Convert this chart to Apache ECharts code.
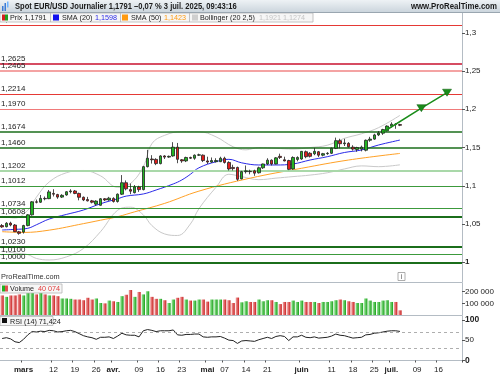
<!DOCTYPE html>
<html><head><meta charset="utf-8">
<script src="https://cdn.jsdelivr.net/npm/echarts@6/dist/echarts.min.js"></script>
<style>html,body{margin:0;padding:0;background:#fff}#c{width:500px;height:375px}</style>
</head><body><div id="c"></div>
<script>
// ---------- DATA ----------
const dates = ['02-24','02-25','02-26','02-27','02-28',
'03-03','03-04','03-05','03-06','03-07','03-10','03-11','03-12','03-13','03-14','03-17','03-18','03-19','03-20','03-21','03-24','03-25','03-26','03-27','03-28','03-31',
'04-01','04-02','04-03','04-04','04-07','04-08','04-09','04-10','04-11','04-14','04-15','04-16','04-17','04-18','04-21','04-22','04-23','04-24','04-25','04-28','04-29','04-30',
'05-01','05-02','05-05','05-06','05-07','05-08','05-09','05-12','05-13','05-14','05-15','05-16','05-19','05-20','05-21','05-22','05-23','05-26','05-27','05-28','05-29','05-30',
'06-02','06-03','06-04','06-05','06-06','06-09','06-10','06-11','06-12','06-13','06-16','06-17','06-18','06-19','06-20','06-23','06-24','06-25','06-26','06-27','06-30',
'07-01','07-02','07-03',
'07-04','07-07','07-08','07-09','07-10','07-11','07-14','07-15','07-16','07-17','07-18','07-21','07-22','07-23'];

const opens  = [1.0480,1.0465,1.0512,1.0487,1.0398,1.0395,1.0480,1.0620,1.0790,1.0785,1.0835,1.0832,1.0900,1.0885,1.0852,1.0880,1.0922,1.0932,1.0900,1.0850,1.0820,1.0803,1.0760,1.0745,1.0830,1.0815,1.0835,1.0795,1.0890,1.1040,1.0950,1.0910,1.0985,1.0950,1.1250,1.1350,1.1345,1.1290,1.1390,1.1375,1.1390,1.1505,1.1340,1.1325,1.1370,1.1360,1.1400,1.1400,1.1325,1.1310,1.1315,1.1315,1.1360,1.1305,1.1240,1.1240,1.1090,1.1185,1.1190,1.1195,1.1170,1.1235,1.1285,1.1335,1.1285,1.1385,1.1340,1.1330,1.1220,1.1345,1.1350,1.1445,1.1425,1.1418,1.1445,1.1400,1.1420,1.1425,1.1490,1.1590,1.1550,1.1555,1.1505,1.1475,1.1480,1.1465,1.1595,1.1610,1.1665,1.1688,1.1720,1.1780,1.1805,1.1800];
const closes = [1.0462,1.0510,1.0487,1.0400,1.0378,1.0480,1.0620,1.0790,1.0785,1.0835,1.0830,1.0920,1.0890,1.0852,1.0875,1.0922,1.0932,1.0900,1.0850,1.0815,1.0803,1.0785,1.0800,1.0830,1.0815,1.0838,1.0795,1.0890,1.1040,1.0960,1.0930,1.0985,1.0950,1.1250,1.1360,1.1340,1.1290,1.1390,1.1375,1.1385,1.1505,1.1346,1.1325,1.1370,1.1360,1.1400,1.1405,1.1330,1.1310,1.1330,1.1330,1.1360,1.1305,1.1220,1.1225,1.1085,1.1185,1.1195,1.1185,1.1165,1.1235,1.1285,1.1335,1.1285,1.1365,1.1370,1.1325,1.1215,1.1370,1.1370,1.1450,1.1380,1.1385,1.1450,1.1400,1.1420,1.1425,1.1490,1.1590,1.1550,1.1560,1.1510,1.1480,1.1500,1.1505,1.1595,1.1610,1.1665,1.1690,1.1735,1.1780,1.1805,1.1800,1.1791];
const lows   = [1.0450,1.0455,1.0470,1.0395,1.0360,1.0375,1.0470,1.0610,1.0770,1.0775,1.0810,1.0825,1.0860,1.0830,1.0840,1.0870,1.0900,1.0890,1.0810,1.0800,1.0795,1.0770,1.0740,1.0740,1.0800,1.0805,1.0780,1.0780,1.0880,1.0940,1.0890,1.0900,1.0920,1.0940,1.1240,1.1290,1.1270,1.1280,1.1350,1.1365,1.1380,1.1295,1.1300,1.1310,1.1350,1.1340,1.1390,1.1310,1.1285,1.1300,1.1305,1.1310,1.1290,1.1200,1.1200,1.1065,1.1085,1.1160,1.1150,1.1130,1.1160,1.1220,1.1270,1.1265,1.1280,1.1350,1.1320,1.1205,1.1210,1.1320,1.1340,1.1360,1.1370,1.1400,1.1375,1.1385,1.1405,1.1415,1.1480,1.1490,1.1520,1.1500,1.1460,1.1445,1.1450,1.1450,1.1575,1.1600,1.1650,1.1665,1.1710,1.1760,1.1745,1.1780];
const highs  = [1.0500,1.0525,1.0530,1.0500,1.0410,1.0490,1.0630,1.0800,1.0820,1.0880,1.0860,1.0945,1.0955,1.0895,1.0890,1.0930,1.0955,1.0945,1.0910,1.0860,1.0855,1.0815,1.0810,1.0840,1.0840,1.0855,1.0850,1.0900,1.1140,1.1070,1.1030,1.1010,1.1000,1.1260,1.1470,1.1400,1.1360,1.1400,1.1400,1.1395,1.1570,1.1560,1.1350,1.1380,1.1380,1.1410,1.1420,1.1410,1.1380,1.1370,1.1360,1.1380,1.1380,1.1320,1.1275,1.1250,1.1195,1.1265,1.1210,1.1210,1.1250,1.1290,1.1360,1.1345,1.1375,1.1420,1.1380,1.1340,1.1385,1.1385,1.1455,1.1460,1.1440,1.1495,1.1455,1.1430,1.1440,1.1500,1.1630,1.1615,1.1615,1.1570,1.1530,1.1510,1.1525,1.1605,1.1640,1.1680,1.1715,1.1745,1.1790,1.1830,1.1820,1.1810];

const volumes = [168000,156000,168000,168000,177000,168000,192000,192000,177000,192000,177000,168000,168000,162000,142000,142000,139000,133000,133000,127000,148000,133000,142000,103000,100000,124000,118000,112000,162000,174000,215000,156000,198000,177000,204000,156000,139000,139000,127000,103000,133000,148000,156000,133000,124000,124000,133000,133000,115000,133000,133000,133000,133000,127000,103000,150000,109000,118000,112000,112000,133000,118000,127000,127000,112000,94000,112000,112000,124000,112000,124000,112000,112000,112000,103000,112000,112000,118000,127000,133000,127000,118000,112000,103000,103000,142000,124000,112000,112000,124000,127000,112000,112000,40074];

const rsi = [54,56,53,46,44,52,63,71,70,72,71,74,73,70,71,73,74,71,66,61,58,56,52,57,57,58,54,60,67,63,62,62,58,73,76,74,71,73,73,73,75,63,62,64,64,65,65,58,57,58,58,59,55,50,49,42,48,49,48,47,51,54,57,54,59,61,59,49,58,58,62,57,56,58,55,56,57,60,65,62,61,58,55,56,57,63,64,67,68,70,72,73,73,71.424];

const sma20Idx = [0,3,6,8,11,15,19,23,27,29,33,36,40,42,44,46,50,53,56,60,64,68,72,76,80,84,88,93];
const sma20Val = [1.0422,1.0430,1.0444,1.0490,1.0565,1.0625,1.0683,1.0765,1.0830,1.0865,1.0893,1.0945,1.1024,1.1076,1.1150,1.1235,1.1315,1.1346,1.1300,1.1272,1.1272,1.1285,1.1337,1.1380,1.1435,1.1468,1.1533,1.1598];
const sma50Idx = [0,5,11,19,23,27,31,38,46,58,70,81,93];
const sma50Val = [1.0400,1.0390,1.0420,1.0505,1.0550,1.0596,1.0660,1.0770,1.0930,1.1100,1.1229,1.1337,1.1423];
const bbUpIdx = [0,3,6,8,11,15,19,23,27,30,33,35,38,42,46,50,54,57,60,64,68,72,76,80,84,88,93];
const bbUpVal = [1.060,1.058,1.068,1.085,1.105,1.117,1.120,1.113,1.098,1.103,1.125,1.155,1.166,1.1707,1.1707,1.164,1.151,1.147,1.150,1.149,1.148,1.150,1.153,1.162,1.168,1.176,1.1921];
const bbLoIdx = [0,3,6,8,11,15,19,23,27,30,33,35,38,41,44,46,50,53,56,60,64,68,72,76,80,84,88,93];
const bbLoVal = [1.015,1.012,1.010,1.005,1.003,1.007,1.018,1.040,1.068,1.072,1.062,1.048,1.037,1.035,1.050,1.070,1.098,1.115,1.112,1.108,1.110,1.112,1.114,1.117,1.122,1.126,1.125,1.1274];

const levels      = [1.3055,1.2625,1.2465,1.2214,1.1970,1.1674,1.1460,1.1202,1.1012,1.0734,1.0608,1.0230,1.0100,1.0000];
const levelLabels = ['1,3055','1,2625','1,2465','1,2214','1,1970','1,1674','1,1460','1,1202','1,1012','1,0734','1,0608','1,0230','1,0100','1,0000'];

const arrowIdx = [89,98,104];
const arrowVal = [1.1700,1.2015,1.2217];

const priceTicks = [1,1.05,1.1,1.15,1.2,1.25,1.3];
const volTicks = [100000,200000];
const rsiTicks = [0,50,100];
const tickDates  = ['03-03','03-12','03-19','03-26','04-01','04-09','04-16','04-23','05-01','05-07','05-14','05-21','06-02','06-11','06-18','06-25','07-01','07-09','07-16'];
const tickLabels = ['mars','12','19','26','avr.','09','16','23','mai','07','14','21','juin','11','18','25','juil.','09','16'];

// ---------- STYLES ----------
const levelColors = ['#e53935','#c8102e','#f4a3a3','#e53935','#f07a7a','#1b6e1b','#1b6e1b','#a9d8a9','#3c9a3c','#3c9a3c','#1b6e1b','#1b6e1b','#3c9a3c','#1b6e1b'];
const levelWidths = [1,1.6,2,1.2,1.2,1.6,1.6,2.2,1.2,1.2,2,2,1.2,2];
const FONT = 'Liberation Sans, Arial, sans-serif';

const pair = (ix, vs) => ix.map((x, k) => [x, vs[k]]);
const candleData = opens.map((o, i) => [o, closes[i], lows[i], highs[i]]);
const gUp = {type:'linear',x:0,y:0,x2:1,y2:0,colorStops:[{offset:0,color:'#9be89b'},{offset:1,color:'#18a018'}]};
const gDn = {type:'linear',x:0,y:0,x2:1,y2:0,colorStops:[{offset:0,color:'#f3a4a4'},{offset:1,color:'#c81e1e'}]};
const volData = volumes.map((v, i) => ({value: v, itemStyle: {color: closes[i] >= opens[i] ? gUp : gDn}}));
const fmtNum = v => String(v).replace('.', ',');
const monthSet = ['mars','avr.','mai','juin','juil.'];

const chart = echarts.init(document.getElementById('c'), null, {renderer: 'canvas'});
const axisGray = '#b4bcc4';
const yCommon = {
  position: 'right', splitLine: {show: false},
  axisLine: {show: true, lineStyle: {color: axisGray}},
  axisTick: {show: true, length: 3, lineStyle: {color: '#555'}},
  axisLabel: {fontSize: 8, color: '#222', margin: 3, fontFamily: FONT}
};
const xCommon = {
  type: 'category', data: dates, boundaryGap: true,
  axisLine: {show: true, lineStyle: {color: axisGray}},
  axisTick: {show: false}, axisLabel: {show: false}, splitLine: {show: false}
};

const option = {
  animation: false,
  backgroundColor: '#fff',
  grid: [
    {left: 0, right: 38, top: 13, height: 269},
    {left: 0, right: 38, top: 283, height: 32},
    {left: 0, right: 38, top: 316, height: 46}
  ],
  xAxis: [
    Object.assign({gridIndex: 0}, xCommon),
    Object.assign({gridIndex: 1}, xCommon),
    Object.assign({}, xCommon, {gridIndex: 2,
      axisTick: {show: true, length: 2, inside: false, lineStyle: {color: '#555'},
        interval: (i, v) => tickDates.indexOf(v) >= 0},
      axisLabel: {show: true, fontSize: 8, color: '#222', margin: 4, fontFamily: FONT,
        interval: (i, v) => tickDates.indexOf(v) >= 0,
        formatter: v => { const t = tickLabels[tickDates.indexOf(v)]; return monthSet.indexOf(t) >= 0 ? '{b|' + t + '}' : t; },
        rich: {b: {fontWeight: 'bold', fontSize: 8, color: '#222', fontFamily: FONT}}}
    })
  ],
  yAxis: [
    Object.assign({}, yCommon, {gridIndex: 0, min: 0.9742, max: 1.3259,
      axisLabel: Object.assign({}, yCommon.axisLabel, {customValues: priceTicks, formatter: v => v === 1 ? '{b|1}' : fmtNum(v), rich: {b: {fontWeight: 'bold', fontSize: 8, color: '#222'}}}),
      axisTick: Object.assign({}, yCommon.axisTick, {customValues: priceTicks})}),
    Object.assign({}, yCommon, {gridIndex: 1, min: 0, max: 275000,
      axisLabel: Object.assign({}, yCommon.axisLabel, {customValues: volTicks, formatter: v => (v/1000) + ' 000'}),
      axisTick: Object.assign({}, yCommon.axisTick, {customValues: volTicks})}),
    Object.assign({}, yCommon, {gridIndex: 2, min: -3.7, max: 109.3,
      axisLabel: Object.assign({}, yCommon.axisLabel, {customValues: rsiTicks, formatter: v => v === 50 ? '50' : '{b|' + v + '}', rich: {b: {fontWeight: 'bold', fontSize: 8.5, color: '#222'}}}),
      axisTick: Object.assign({}, yCommon.axisTick, {customValues: rsiTicks})})
  ],
  series: [
    { // support / resistance levels
      type: 'line', xAxisIndex: 0, yAxisIndex: 0, data: [], z: 1, silent: true,
      markLine: {
        silent: true, symbol: 'none', animation: false,
        data: levels.map((v, k) => ({
          yAxis: v,
          lineStyle: {color: levelColors[k], width: levelWidths[k], type: 'solid'},
          label: {show: true, position: 'insideStartTop', formatter: levelLabels[k], distance: 1,
                  fontSize: 8, color: '#222', fontFamily: FONT}
        }))
      }
    },
    {name: 'BBup', type: 'line', xAxisIndex: 0, yAxisIndex: 0, data: pair(bbUpIdx, bbUpVal), smooth: 0.4, showSymbol: false, z: 2,
      lineStyle: {color: '#c9c9c9', width: 1}},
    {name: 'BBlo', type: 'line', xAxisIndex: 0, yAxisIndex: 0, data: pair(bbLoIdx, bbLoVal), smooth: 0.4, showSymbol: false, z: 2,
      lineStyle: {color: '#c9c9c9', width: 1}},
    {name: 'SMA50', type: 'line', xAxisIndex: 0, yAxisIndex: 0, data: pair(sma50Idx, sma50Val), smooth: 0.4, showSymbol: false, z: 3,
      lineStyle: {color: '#ffa126', width: 1}},
    {name: 'SMA20', type: 'line', xAxisIndex: 0, yAxisIndex: 0, data: pair(sma20Idx, sma20Val), smooth: 0.4, showSymbol: false, z: 3,
      lineStyle: {color: '#2a2ae8', width: 1}},
    {name: 'Prix', type: 'candlestick', xAxisIndex: 0, yAxisIndex: 0, data: candleData, z: 5, barWidth: 3,
      itemStyle: {color: '#22b422', color0: '#e01c1c', borderColor: '#222', borderColor0: '#222', borderWidth: 0.8},
      markLine: {silent: true, symbol: 'none', animation: false,
        data: [{yAxis: closes[closes.length - 1], lineStyle: {opacity: 0},
          label: {show: true, position: 'end', distance: 3, formatter: fmtNum(closes[closes.length - 1]),
            backgroundColor: '#f5d60e', borderColor: '#b59b00', borderWidth: 0.6, padding: [2, 2, 1, 2],
            color: '#000', fontWeight: 'bold', fontSize: 8.5, fontFamily: FONT}}]}},
    {name: 'Arrow', type: 'line', xAxisIndex: 0, yAxisIndex: 0, z: 6,
      data: arrowIdx.map((x, k) => k === 0 ? {value: [x, arrowVal[k]], symbol: 'none'} : [x, arrowVal[k]]),
      symbol: 'triangle', symbolSize: [9, 7], symbolRotate: 180, showSymbol: true, showAllSymbol: true,
      lineStyle: {color: '#1a8c1a', width: 1.5}, itemStyle: {color: '#1a8c1a', borderColor: '#0d5e0d', borderWidth: 0.5}},
    {name: 'Volume', type: 'bar', xAxisIndex: 1, yAxisIndex: 1, data: volData, barCategoryGap: '22%',
      markLine: {silent: true, symbol: 'none', animation: false,
        data: [{yAxis: volumes[volumes.length - 1], lineStyle: {opacity: 0},
          label: {show: true, position: 'end', distance: 4, formatter: '40 074', color: '#e03a3a', fontSize: 8, fontFamily: FONT}}]}},
    {name: 'RSI', type: 'line', xAxisIndex: 2, yAxisIndex: 2, data: rsi, showSymbol: false, z: 3,
      lineStyle: {color: '#222', width: 1},
      markLine: {silent: true, symbol: 'none', animation: false,
        data: [
          {yAxis: 70, lineStyle: {color: '#9a9a9a', type: [3, 3], width: 0.8}, label: {show: false}},
          {yAxis: 30, lineStyle: {color: '#9a9a9a', type: [3, 3], width: 0.8}, label: {show: false}},
          {yAxis: rsi[rsi.length - 1], lineStyle: {opacity: 0},
            label: {show: true, position: 'end', distance: 3, formatter: '71,424', color: '#222', fontSize: 8,
              backgroundColor: '#fff', borderColor: '#8a8a8a', borderWidth: 0.8, padding: [1, 2, 0, 2], fontFamily: FONT}}
        ]}}
  ],
  graphic: [
    // title bar
    {type: 'rect', shape: {x: 0, y: 0, width: 500, height: 13}, z: 100,
      style: {fill: {type: 'linear', x: 0, y: 0, x2: 0, y2: 1, colorStops: [{offset: 0, color: '#eef2f5'}, {offset: 1, color: '#c9d3db'}]}}},
    {type: 'line', shape: {x1: 0, y1: 12.5, x2: 500, y2: 12.5}, style: {stroke: '#9aa6b0', lineWidth: 1}, z: 101},
    {type: 'rect', shape: {x: 2, y: 6, width: 1.5, height: 5}, style: {fill: '#3a7bd5'}, z: 101},
    {type: 'rect', shape: {x: 4.5, y: 3, width: 1.5, height: 8}, style: {fill: '#3a7bd5'}, z: 101},
    {type: 'rect', shape: {x: 7, y: 1.5, width: 1.5, height: 6}, style: {fill: '#6fb3ff'}, z: 101},
    {type: 'text', x: 15, y: 6.8, scaleX: 0.89, z: 102,
      style: {text: 'Spot EUR/USD Journalier 1,1791 \u20130,07 % 3 juil. 2025, 09:43:16', font: 'bold 8.5px ' + FONT, fill: '#1a1a1a', verticalAlign: 'middle', textVerticalAlign: 'middle'}},
    {type: 'text', x: 497, y: 6.8, scaleX: 0.92, z: 102,
      style: {text: 'www.ProRealTime.com', font: 'bold 8.5px ' + FONT, fill: '#1a1a1a', align: 'right', textAlign: 'right', verticalAlign: 'middle', textVerticalAlign: 'middle'}},
    // legend row
    {type: 'rect', shape: {x: 0, y: 13, width: 313, height: 9}, style: {fill: '#f6f6f6', stroke: '#b5b5b5', lineWidth: 0.8}, z: 100},
    {type: 'line', shape: {x1: 50.5, y1: 13, x2: 50.5, y2: 22}, style: {stroke: '#b5b5b5', lineWidth: 0.8}, z: 101},
    {type: 'line', shape: {x1: 120.5, y1: 13, x2: 120.5, y2: 22}, style: {stroke: '#b5b5b5', lineWidth: 0.8}, z: 101},
    {type: 'line', shape: {x1: 189.5, y1: 13, x2: 189.5, y2: 22}, style: {stroke: '#b5b5b5', lineWidth: 0.8}, z: 101},
    {type: 'rect', shape: {x: 2, y: 14.5, width: 3, height: 6}, style: {fill: '#d42020'}, z: 101},
    {type: 'rect', shape: {x: 5, y: 14.5, width: 3, height: 6}, style: {fill: '#20a020'}, z: 101},
    {type: 'text', x: 10, y: 17.8, scaleX: 0.9, z: 102, style: {text: 'Prix 1,1791', font: '8px ' + FONT, fill: '#1a1a1a', verticalAlign: 'middle', textVerticalAlign: 'middle'}},
    {type: 'rect', shape: {x: 53, y: 14.5, width: 6, height: 6}, style: {fill: '#1010ee'}, z: 101},
    {type: 'text', x: 62, y: 17.8, scaleX: 0.9, z: 102, style: {text: 'SMA (20)', font: '8px ' + FONT, fill: '#1a1a1a', verticalAlign: 'middle', textVerticalAlign: 'middle'}},
    {type: 'text', x: 95, y: 17.8, scaleX: 0.9, z: 102, style: {text: '1,1598', font: '8px ' + FONT, fill: '#2a2ae8', verticalAlign: 'middle', textVerticalAlign: 'middle'}},
    {type: 'rect', shape: {x: 122, y: 14.5, width: 6, height: 6}, style: {fill: '#ff9a10'}, z: 101},
    {type: 'text', x: 131, y: 17.8, scaleX: 0.9, z: 102, style: {text: 'SMA (50)', font: '8px ' + FONT, fill: '#1a1a1a', verticalAlign: 'middle', textVerticalAlign: 'middle'}},
    {type: 'text', x: 164, y: 17.8, scaleX: 0.9, z: 102, style: {text: '1,1423', font: '8px ' + FONT, fill: '#ff9a10', verticalAlign: 'middle', textVerticalAlign: 'middle'}},
    {type: 'rect', shape: {x: 192, y: 14.5, width: 6, height: 6}, style: {fill: '#cfcfcf'}, z: 101},
    {type: 'text', x: 200, y: 17.8, scaleX: 0.9, z: 102, style: {text: 'Bollinger (20 2,5)', font: '8px ' + FONT, fill: '#1a1a1a', verticalAlign: 'middle', textVerticalAlign: 'middle'}},
    {type: 'text', x: 259, y: 17.8, scaleX: 0.9, z: 102, style: {text: '1,1921 1,1274', font: '8px ' + FONT, fill: '#c4c4c4', verticalAlign: 'middle', textVerticalAlign: 'middle'}},
    // bottom-left brand and info icon
    {type: 'text', x: 1, y: 277, scaleX: 0.92, z: 102, style: {text: 'ProRealTime.com', font: '8px ' + FONT, fill: '#333', verticalAlign: 'middle', textVerticalAlign: 'middle'}},
    {type: 'rect', shape: {x: 398, y: 272.5, width: 7, height: 8}, style: {fill: '#fff', stroke: '#999', lineWidth: 0.8}, z: 102},
    {type: 'text', x: 401.5, y: 277, z: 103, style: {text: 'i', font: '7px ' + FONT, fill: '#555', align: 'center', textAlign: 'center', verticalAlign: 'middle', textVerticalAlign: 'middle'}},
    // volume legend
    {type: 'rect', shape: {x: 0, y: 284, width: 62, height: 9}, style: {fill: '#f6f6f6', stroke: '#b5b5b5', lineWidth: 0.8}, z: 100},
    {type: 'rect', shape: {x: 2, y: 285.5, width: 3, height: 6}, style: {fill: '#20b020'}, z: 101},
    {type: 'rect', shape: {x: 5, y: 285.5, width: 3, height: 6}, style: {fill: '#e05050'}, z: 101},
    {type: 'text', x: 10, y: 288.8, scaleX: 0.9, z: 102, style: {text: 'Volume', font: '8px ' + FONT, fill: '#1a1a1a', verticalAlign: 'middle', textVerticalAlign: 'middle'}},
    {type: 'text', x: 38, y: 288.8, scaleX: 0.9, z: 102, style: {text: '40 074', font: '8px ' + FONT, fill: '#e03a3a', verticalAlign: 'middle', textVerticalAlign: 'middle'}},
    // RSI legend
    {type: 'rect', shape: {x: 0, y: 316.5, width: 53, height: 9}, style: {fill: '#f6f6f6', stroke: '#b5b5b5', lineWidth: 0.8}, z: 100},
    {type: 'rect', shape: {x: 2, y: 318, width: 5, height: 5}, style: {fill: '#111'}, z: 101},
    {type: 'text', x: 10, y: 321.3, scaleX: 0.9, z: 102, style: {text: 'RSI (14) 71,424', font: '8px ' + FONT, fill: '#1a1a1a', verticalAlign: 'middle', textVerticalAlign: 'middle'}}
  ]
};
chart.setOption(option);
</script>
</body></html>
